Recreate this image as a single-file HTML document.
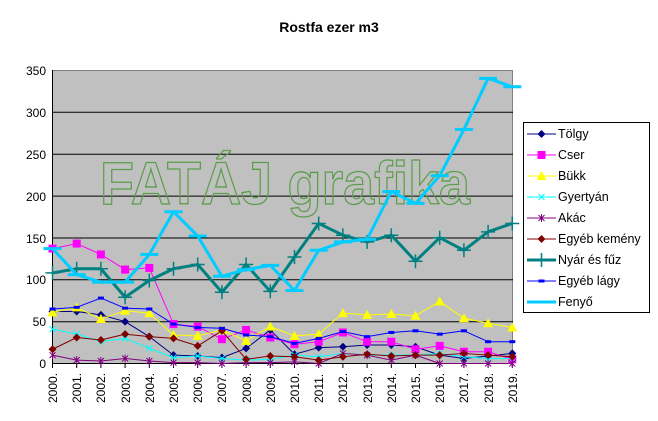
<!DOCTYPE html>
<html><head><meta charset="utf-8"><style>
body{margin:0;background:#fff;}
svg{display:block;font-family:"Liberation Sans",Arial,sans-serif;}
</style></head><body>
<svg id="s" width="658" height="421" viewBox="0 0 658 421">
<rect x="0" y="0" width="658" height="421" fill="#fff"/>
<text x="329" y="32" text-anchor="middle" font-size="14" font-weight="bold">Rostfa ezer m3</text>
<rect x="52.5" y="70.5" width="460" height="293" fill="#c0c0c0" stroke="#808080"/>
<g stroke="#000" stroke-width="1">
<line x1="52" y1="112.3" x2="513" y2="112.3"/>
<line x1="52" y1="154.2" x2="513" y2="154.2"/>
<line x1="52" y1="196.1" x2="513" y2="196.1"/>
<line x1="52" y1="238" x2="513" y2="238"/>
<line x1="52" y1="279.8" x2="513" y2="279.8"/>
<line x1="52" y1="321.7" x2="513" y2="321.7"/>
<line x1="52.5" y1="70" x2="52.5" y2="364"/>
<line x1="52" y1="363.5" x2="513" y2="363.5"/>
</g>
<g font-size="12" text-anchor="end">
<text x="46" y="75">350</text><text x="46" y="117">300</text><text x="46" y="159">250</text>
<text x="46" y="201">200</text><text x="46" y="243">150</text><text x="46" y="284">100</text>
<text x="46" y="326">50</text><text x="46" y="368">0</text>
</g>
<g id="xl" font-size="12"></g>
<text x="100" y="204" font-size="60" font-weight="bold" fill="none" stroke="#5a9e4a" stroke-width="1.3" textLength="370" lengthAdjust="spacingAndGlyphs">FATÁJ grafika</text>
<g id="series"></g>
<rect x="523.5" y="122.5" width="126" height="190" fill="#fff" stroke="#000"/>
<g id="leg" font-size="12.5">
<text x="558" y="138">Tölgy</text><text x="558" y="159">Cser</text><text x="558" y="180">Bükk</text>
<text x="558" y="201">Gyertyán</text><text x="558" y="222">Akác</text><text x="558" y="243">Egyéb kemény</text>
<text x="558" y="264">Nyár és fűz</text><text x="558" y="285">Egyéb lágy</text><text x="558" y="306">Fenyő</text>
</g>
<g font-size="12" id="years">
<text transform="translate(57,403) rotate(-90)">2000.</text><text transform="translate(81,403) rotate(-90)">2001.</text>
<text transform="translate(105,403) rotate(-90)">2002.</text><text transform="translate(130,403) rotate(-90)">2003.</text>
<text transform="translate(154,403) rotate(-90)">2004.</text><text transform="translate(178,403) rotate(-90)">2005.</text>
<text transform="translate(202,403) rotate(-90)">2006.</text><text transform="translate(226,403) rotate(-90)">2007.</text>
<text transform="translate(251,403) rotate(-90)">2008.</text><text transform="translate(275,403) rotate(-90)">2009.</text>
<text transform="translate(299,403) rotate(-90)">2010.</text><text transform="translate(323,403) rotate(-90)">2011.</text>
<text transform="translate(347,403) rotate(-90)">2012.</text><text transform="translate(372,403) rotate(-90)">2013.</text>
<text transform="translate(396,403) rotate(-90)">2014.</text><text transform="translate(420,403) rotate(-90)">2015.</text>
<text transform="translate(444,403) rotate(-90)">2016.</text><text transform="translate(468,403) rotate(-90)">2017.</text>
<text transform="translate(493,403) rotate(-90)">2018.</text><text transform="translate(517,403) rotate(-90)">2019.</text>
</g>
</svg>
<script>
var NS="http://www.w3.org/2000/svg";
function X(i){return 52.5+i*24.2;}
function Y(v){return 363.5-v*0.8386;}
var S=[
["#000080",1,"dia",[62,62,58,50,32,10,9,7,18,40,11,19,20,22,22,20,10,6,9,12]],
["#ff00ff",1,"sq",[137,143,130,112,114,47,44,29,40,31,23,26,37,26,26,17,21,14,14,5]],
["#ffff00",1,"tri",[61,67,53,63,60,34,33,40,27,44,33,35,60,58,59,57,74,54,48,43]],
["#00ffff",1,"x",[41,35,26,30,18,7,9,6,4,5,10,8,12,10,10,10,12,8,6,6]],
["#800080",1,"ast",[10,4,3,6,3,1,1,0,1,1,2,0,12,10,4,10,0,0,0,0]],
["#800000",1,"dia",[17,31,28,35,32,30,21,39,5,9,8,4,8,11,9,10,10,12,10,8]],
["#008080",3,"plus",[108,113,113,79,99,113,118,85,118,86,127,167,153,145,153,122,150,135,157,167]],
["#0000ff",1,"dash",[65,67,78,66,65,47,43,42,34,32,24,30,38,32,37,39,35,39,26,26]],
["#00ccff",3,"dash",[137,106,97,97,130,181,152,104,112,117,87,135,145,148,205,191,224,279,340,330]]
];
var g=document.getElementById("series");
function el(n,a,p){var e=document.createElementNS(NS,n);for(var k in a)e.setAttribute(k,a[k]);p.appendChild(e);return e;}
function mark(t,c,x,y,p,w){
 if(t=="dia")el("polygon",{points:(x)+","+(y-4)+" "+(x+4)+","+y+" "+x+","+(y+4)+" "+(x-4)+","+y,fill:c},p);
 else if(t=="sq")el("rect",{x:x-4,y:y-4,width:8,height:8,fill:c},p);
 else if(t=="tri")el("polygon",{points:x+","+(y-5)+" "+(x+5)+","+(y+4)+" "+(x-5)+","+(y+4),fill:c},p);
 else if(t=="x"){el("path",{d:"M"+(x-3)+" "+(y-3)+"L"+(x+3)+" "+(y+3)+"M"+(x+3)+" "+(y-3)+"L"+(x-3)+" "+(y+3),stroke:c,"stroke-width":1},p);}
 else if(t=="ast"){el("path",{d:"M"+(x-3)+" "+(y-3)+"L"+(x+3)+" "+(y+3)+"M"+(x+3)+" "+(y-3)+"L"+(x-3)+" "+(y+3)+"M"+x+" "+(y-4)+"L"+x+" "+(y+4),stroke:c,"stroke-width":1},p);}
 else if(t=="plus"){el("path",{d:"M"+(x-7)+" "+y+"L"+(x+7)+" "+y+"M"+x+" "+(y-7)+"L"+x+" "+(y+7),stroke:c,"stroke-width":1.5},p);}
 else if(t=="dash"){el("path",{d:"M"+(x-(w>1?9:3))+" "+y+"L"+(x+(w>1?9:3))+" "+y,stroke:c,"stroke-width":3},p);}
}
S.forEach(function(s,si){
 var pts=s[3].map(function(v,i){return X(i)+","+Y(v);}).join(" ");
 el("polyline",{points:pts,fill:"none",stroke:s[0],"stroke-width":s[1],"stroke-linejoin":"round"},g);
 s[3].forEach(function(v,i){mark(s[2],s[0],X(i),Y(v),g,s[1]);});
 var ly=134+si*21;
 var lg=document.getElementById("leg");
 el("line",{x1:527,y1:ly,x2:556,y2:ly,stroke:s[0],"stroke-width":s[1]},lg);
 mark(s[2],s[0],541.5,ly,lg,s[1]);
});
var ax=document.getElementById("xl");
for(var i=0;i<20;i++)el("line",{x1:X(i),y1:363,x2:X(i),y2:368,stroke:"#000"},ax);
</script>
</body></html>
